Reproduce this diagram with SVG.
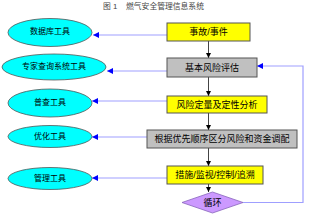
<svg xmlns="http://www.w3.org/2000/svg" width="310" height="218" viewBox="0 0 310 218">
<defs>
<style>
text{font-family:"Liberation Sans","Noto Sans CJK SC",sans-serif;text-anchor:middle;dominant-baseline:central;fill:#000}
.title{font-size:7.8px;fill:#444;text-anchor:start}
.bt{font-size:9px}
.et{font-size:8px}
.ell{fill:#00ffff;stroke:#555;stroke-width:0.8}
.yel{fill:#ffff00;stroke:#555;stroke-width:1}
.gry{fill:#c0c0c0;stroke:#555;stroke-width:1}
.dia{fill:#cc99ff;stroke:#8866bb;stroke-width:0.8}
.blue{fill:none;stroke:#9f9fff;stroke-width:1.2}
.down{fill:none;stroke:#444;stroke-width:1}
</style>
<marker id="ab" viewBox="0 0 6 6" refX="6" refY="3" markerWidth="6" markerHeight="6" markerUnits="userSpaceOnUse" orient="auto">
<path d="M0,0 L6,3 L0,6 z" fill="#0000ff"/>
</marker>
<marker id="ak" viewBox="0 0 6 6" refX="6" refY="3" markerWidth="5" markerHeight="5" markerUnits="userSpaceOnUse" orient="auto">
<path d="M0,0 L6,3 L0,6 z" fill="#000"/>
</marker>
</defs>
<text class="title" x="103" y="6">图 1</text>
<text class="title" x="126" y="6">燃气安全管理信息系统</text>
<g id="connectors">
<line class="blue" x1="167" y1="35" x2="93" y2="35" marker-end="url(#ab)"/>
<line class="blue" x1="167" y1="71" x2="107" y2="71" stroke-width="1.5" marker-end="url(#ab)"/>
<line class="blue" x1="167" y1="101" x2="92" y2="101" stroke-width="1.5" marker-end="url(#ab)"/>
<line class="blue" x1="147" y1="137" x2="92" y2="137" marker-end="url(#ab)"/>
<line class="blue" x1="167" y1="178" x2="92" y2="178" stroke-width="1.5" marker-end="url(#ab)"/>
<polyline class="blue" points="243,202.5 303,202.5 303,66 257,66" marker-end="url(#ab)"/>
<line class="down" x1="208.5" y1="41" x2="208.5" y2="58" marker-end="url(#ak)"/>
<line class="down" x1="208.5" y1="77" x2="208.5" y2="96" marker-end="url(#ak)"/>
<line class="down" x1="208.5" y1="113" x2="208.5" y2="130" marker-end="url(#ak)"/>
<line class="down" x1="208.5" y1="148" x2="208.5" y2="166" marker-end="url(#ak)"/>
<line class="down" x1="208.5" y1="184" x2="208.5" y2="192" marker-end="url(#ak)"/>
</g>
<g id="e1"><ellipse class="ell" cx="50" cy="32.5" rx="42" ry="14"/><text class="et" x="50" y="31">数据库工具</text></g>
<g id="e2"><ellipse class="ell" cx="54" cy="67" rx="52" ry="13"/><text class="et" x="54" y="66">专家查询系统工具</text></g>
<g id="e3"><ellipse class="ell" cx="50" cy="103" rx="42" ry="14"/><text class="et" x="50" y="102">普查工具</text></g>
<g id="e4"><ellipse class="ell" cx="50" cy="136.5" rx="42" ry="11"/><text class="et" x="50" y="136">优化工具</text></g>
<g id="e5"><ellipse class="ell" cx="50" cy="178.5" rx="42" ry="11"/><text class="et" x="50" y="178">管理工具</text></g>
<g id="b1"><rect class="yel" x="167" y="23" width="83" height="18"/><text class="bt" x="208.5" y="32">事故/事件</text></g>
<g id="b2"><rect class="gry" x="167" y="58" width="90" height="19"/><text class="bt" x="212" y="67.5">基本风险评估</text></g>
<g id="b3"><rect class="yel" x="167" y="96" width="100" height="17"/><text class="bt" x="217" y="104.5">风险定量及定性分析</text></g>
<g id="b4"><rect class="gry" x="147" y="130" width="150" height="18"/><text class="bt" x="222" y="139">根据优先顺序区分风险和资金调配</text></g>
<g id="b5"><rect class="yel" x="167" y="166" width="96" height="18"/><text class="bt" x="215" y="175">措施/监视/控制/追溯</text></g>
<g id="d1"><polygon class="dia" points="212.5,192 243,202.5 212.5,213 182,202.5"/><text class="bt" x="212.5" y="202.5">循环</text></g>
</svg>
